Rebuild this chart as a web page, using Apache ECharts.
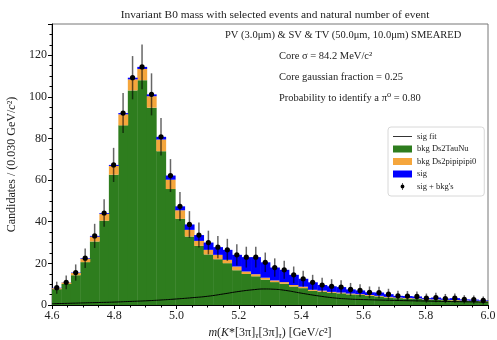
<!DOCTYPE html>
<html>
<head>
<meta charset="utf-8">
<script src="https://cdn.jsdelivr.net/npm/echarts@6/dist/echarts.min.js"></script>
<style>
  html, body { margin: 0; padding: 0; background: #fff; }
  #chart { width: 497px; height: 340px; }
</style>
</head>
<body>
<div id="chart"></div>
<script>
// histogram range and bin count
var massLo = 4.6;
var massHi = 6.0;
var nBins = 46;

// stacked components, one value per bin
var bkgTauNu = [7.6, 10.1, 14.3, 20.6, 30.5, 40.5, 62.6, 86.3, 103.1, 108.0, 94.8, 73.9,
  55.7, 41.4, 32.9, 28.4, 24.3, 22.0, 20.1, 16.7, 14.9, 13.8, 12.2, 11.0, 10.2, 8.9, 8.1,
  6.8, 6.4, 5.9, 5.6, 5.1, 4.8, 4.4, 4.1, 3.6, 3.3, 3.1, 2.9, 2.6, 2.5, 2.3, 2.2, 2.0, 1.9, 1.7];
var bkgPi0 = [0.5, 0.7, 1.1, 1.6, 2.3, 3.3, 4.2, 5.3, 5.3, 5.4, 5.5, 5.6,
  4.5, 4.1, 3.2, 2.4, 2.2, 2.1, 1.6, 1.8, 1.2, 1.0, 0.9, 0.8, 0.8, 0.7, 0.7,
  0.5, 0.5, 0.4, 0.4, 0.4, 0.4, 0.4, 0.3, 0.3, 0.3, 0.3, 0.3, 0.2, 0.2, 0.2, 0.2, 0.2, 0.2, 0.2];
var sig = [0.2, 0.1, 0.2, 0.3, 0.4, 0.4, 0.5, 0.6, 0.8, 1.0, 0.9, 1.3,
  2.0, 1.9, 2.6, 2.8, 3.5, 3.7, 4.8, 5.6, 6.9, 8.2, 7.4, 6.2, 5.9, 4.9, 3.8,
  3.6, 2.7, 2.7, 2.6, 2.0, 1.8, 1.3, 1.6, 1.3, 0.8, 0.9, 0.9, 0.5, 0.9, 0.6, 0.9, 0.5, 0.5, 0.3];
// error bar half-lengths on sig + bkg's
var totErr = [2.9, 3.3, 3.9, 4.7, 5.8, 6.6, 8.2, 9.6, 10.4, 10.7, 10.1, 9.0,
  7.9, 6.9, 6.4, 6.0, 5.7, 5.4, 5.3, 5.1, 5.0, 5.0, 4.7, 4.4, 4.3, 4.0, 3.8,
  3.6, 3.5, 3.4, 3.3, 3.1, 3.0, 2.8, 2.8, 2.6, 2.4, 2.4, 2.4, 2.2, 2.3, 2.2, 2.2, 2.0, 2.0, 1.9];

// sig fit curve
var fitX = [4.60, 4.65, 4.70, 4.75, 4.80, 4.85, 4.90, 4.95, 5.00, 5.05, 5.10, 5.15, 5.20,
  5.25, 5.28, 5.31, 5.35, 5.40, 5.45, 5.50, 5.55, 5.60, 5.70, 5.80, 5.90, 6.00];
var fitY = [0.6, 0.8, 1.0, 1.2, 1.4, 1.7, 2.0, 2.4, 2.9, 3.5, 4.2, 5.3, 6.5,
  7.4, 7.7, 7.6, 7.0, 5.7, 4.5, 3.5, 2.9, 2.6, 2.2, 1.9, 1.6, 1.4];

var yTicks = [0, 20, 40, 60, 80, 100, 120];

var cGreen = '#2e7d1e';
var cOrange = '#f5a63c';
var cBlue = '#0000ff';
var serif = 'Liberation Serif, DejaVu Serif, serif';

var binW = (massHi - massLo) / nBins;
var greenData = [], orangeData = [], blueData = [], pointData = [];
for (var i = 0; i < nBins; i++) {
  var x0 = massLo + i * binW, x1 = x0 + binW;
  var a = bkgTauNu[i], b = a + bkgPi0[i], c = b + sig[i];
  greenData.push([x0, x1, 0, a]);
  orangeData.push([x0, x1, a, b]);
  blueData.push([x0, x1, b, c]);
  pointData.push([(x0 + x1) / 2, c, totErr[i]]);
}
var fitData = fitX.map(function (x, k) { return [x, fitY[k]]; });

function barRender(color) {
  return function (params, api) {
    var p0 = api.coord([api.value(0), api.value(3)]);
    var p1 = api.coord([api.value(1), api.value(2)]);
    return {
      type: 'rect',
      shape: { x: p0[0], y: p0[1], width: p1[0] - p0[0] + 0.4, height: p1[1] - p0[1] },
      style: { fill: color }
    };
  };
}

function pointRender(params, api) {
  var x = api.value(0), y = api.value(1), e = api.value(2);
  var top = api.coord([x, y + e]);
  var bot = api.coord([x, Math.max(y - e, 0)]);
  var mid = api.coord([x, y]);
  return {
    type: 'group',
    children: [
      { type: 'line', shape: { x1: top[0], y1: top[1], x2: bot[0], y2: bot[1] },
        style: { stroke: 'rgba(0,0,0,0.6)', lineWidth: 1.5 } },
      { type: 'circle', shape: { cx: mid[0], cy: mid[1], r: 2.6 }, style: { fill: '#000' } }
    ]
  };
}

var chart = echarts.init(document.getElementById('chart'));
var option = {
  animation: false,
  title: {
    text: 'Invariant B0 mass with selected events and natural number of event',
    left: 270, top: 5, textAlign: 'center',
    textStyle: { fontFamily: serif, fontSize: 11.4, fontWeight: 'normal', color: '#222' }
  },
  grid: { left: 52, right: 9, top: 24, bottom: 35, show: true, borderColor: '#777', borderWidth: 1,
    outerBoundsMode: 'none' },
  legend: {
    orient: 'vertical', left: 388, top: 127,
    backgroundColor: '#fff', borderColor: '#d8d8d8', borderWidth: 1, borderRadius: 3,
    padding: [5, 8, 5, 5], itemWidth: 19, itemHeight: 7, itemGap: 3.5,
    textStyle: { fontFamily: serif, fontSize: 8.5, color: '#222' },
    data: [
      { name: 'sig fit', icon: 'path://M0,0 M19,7 M0,3.1 L19,3.1 L19,3.9 L0,3.9 Z' },
      { name: 'bkg Ds2TauNu', icon: 'rect' },
      { name: 'bkg Ds2pipipipi0', icon: 'rect' },
      { name: 'sig', icon: 'rect' },
      { name: "sig + bkg's", icon: 'path://M0,0 M19,9 M9.1,0 L9.9,0 L9.9,9 L9.1,9 Z M12,4.5 A2.5,2.5 0 1 1 7,4.5 A2.5,2.5 0 1 1 12,4.5 Z' }
    ]
  },
  xAxis: {
    type: 'value', min: massLo, max: massHi, interval: 0.2,
    name: '{i|m}({i|K}*[3π]{s|τ}[3π]{s|τ}) [GeV/{i|c}²]',
    nameLocation: 'middle', nameGap: 20,
    nameTextStyle: {
      fontFamily: serif, fontSize: 12, color: '#222',
      rich: {
        i: { fontFamily: serif, fontSize: 12, fontStyle: 'italic', color: '#222' },
        s: { fontFamily: serif, fontSize: 9, fontStyle: 'italic', color: '#222', verticalAlign: 'bottom', padding: [6, 0, 0, 0] }
      }
    },
    axisLine: { lineStyle: { color: '#000', width: 1 } },
    axisTick: { length: 4, lineStyle: { color: '#000' } },
    minorTick: { show: true, splitNumber: 4, length: 2.5, lineStyle: { color: '#000' } },
    splitLine: { show: false },
    axisLabel: { fontFamily: serif, fontSize: 12, color: '#222', margin: 5,
      formatter: function (v) { return v.toFixed(1); } }
  },
  yAxis: {
    type: 'value', min: 0, max: 135, interval: 20,
    name: 'Candidates / (0.030 GeV/{i|c}²)',
    nameLocation: 'middle', nameGap: 31, nameRotate: 90,
    nameTextStyle: {
      fontFamily: serif, fontSize: 12, color: '#222',
      rich: { i: { fontFamily: serif, fontSize: 12, fontStyle: 'italic', color: '#222' } }
    },
    axisLine: { show: true, lineStyle: { color: '#000', width: 1 } },
    axisTick: { show: true, length: 4, lineStyle: { color: '#000' } },
    minorTick: { show: true, splitNumber: 4, length: 2.5, lineStyle: { color: '#000' } },
    splitLine: { show: false },
    axisLabel: { fontFamily: serif, fontSize: 12, color: '#222', margin: 5, showMaxLabel: false,
      formatter: function (v) { return yTicks.indexOf(v) >= 0 ? String(v) : ''; } }
  },
  graphic: [
    { type: 'text', left: 225, top: 30,
      style: { text: 'PV (3.0μm) & SV & TV (50.0μm, 10.0μm) SMEARED', font: '10.5px ' + serif, fill: '#222' } },
    { type: 'text', left: 279, top: 51,
      style: { text: 'Core σ = 84.2 MeV/c²', font: '10.5px ' + serif, fill: '#222' } },
    { type: 'text', left: 279, top: 72,
      style: { text: 'Core gaussian fraction = 0.25', font: '10.5px ' + serif, fill: '#222' } },
    { type: 'text', left: 279, top: 93,
      style: { text: 'Probability to identify a π⁰ = 0.80', font: '10.5px ' + serif, fill: '#222' } }
  ],
  series: [
    { name: 'bkg Ds2TauNu', type: 'custom', renderItem: barRender(cGreen), itemStyle: { color: cGreen },
      encode: { x: [0, 1], y: [2, 3] }, data: greenData, z: 2 },
    { name: 'bkg Ds2pipipipi0', type: 'custom', renderItem: barRender(cOrange), itemStyle: { color: cOrange },
      encode: { x: [0, 1], y: [2, 3] }, data: orangeData, z: 2 },
    { name: 'sig', type: 'custom', renderItem: barRender(cBlue), itemStyle: { color: cBlue },
      encode: { x: [0, 1], y: [2, 3] }, data: blueData, z: 2 },
    { name: 'sig fit', type: 'line', data: fitData, smooth: true, symbol: 'none', z: 3,
      itemStyle: { color: '#000' }, lineStyle: { color: '#000', width: 1 } },
    { name: "sig + bkg's", type: 'custom', renderItem: pointRender, itemStyle: { color: '#000' },
      encode: { x: 0, y: 1 }, data: pointData, z: 4 }
  ]
};
chart.setOption(option);
window.addEventListener('resize', function () { chart.resize(); });
</script>
</body>
</html>
